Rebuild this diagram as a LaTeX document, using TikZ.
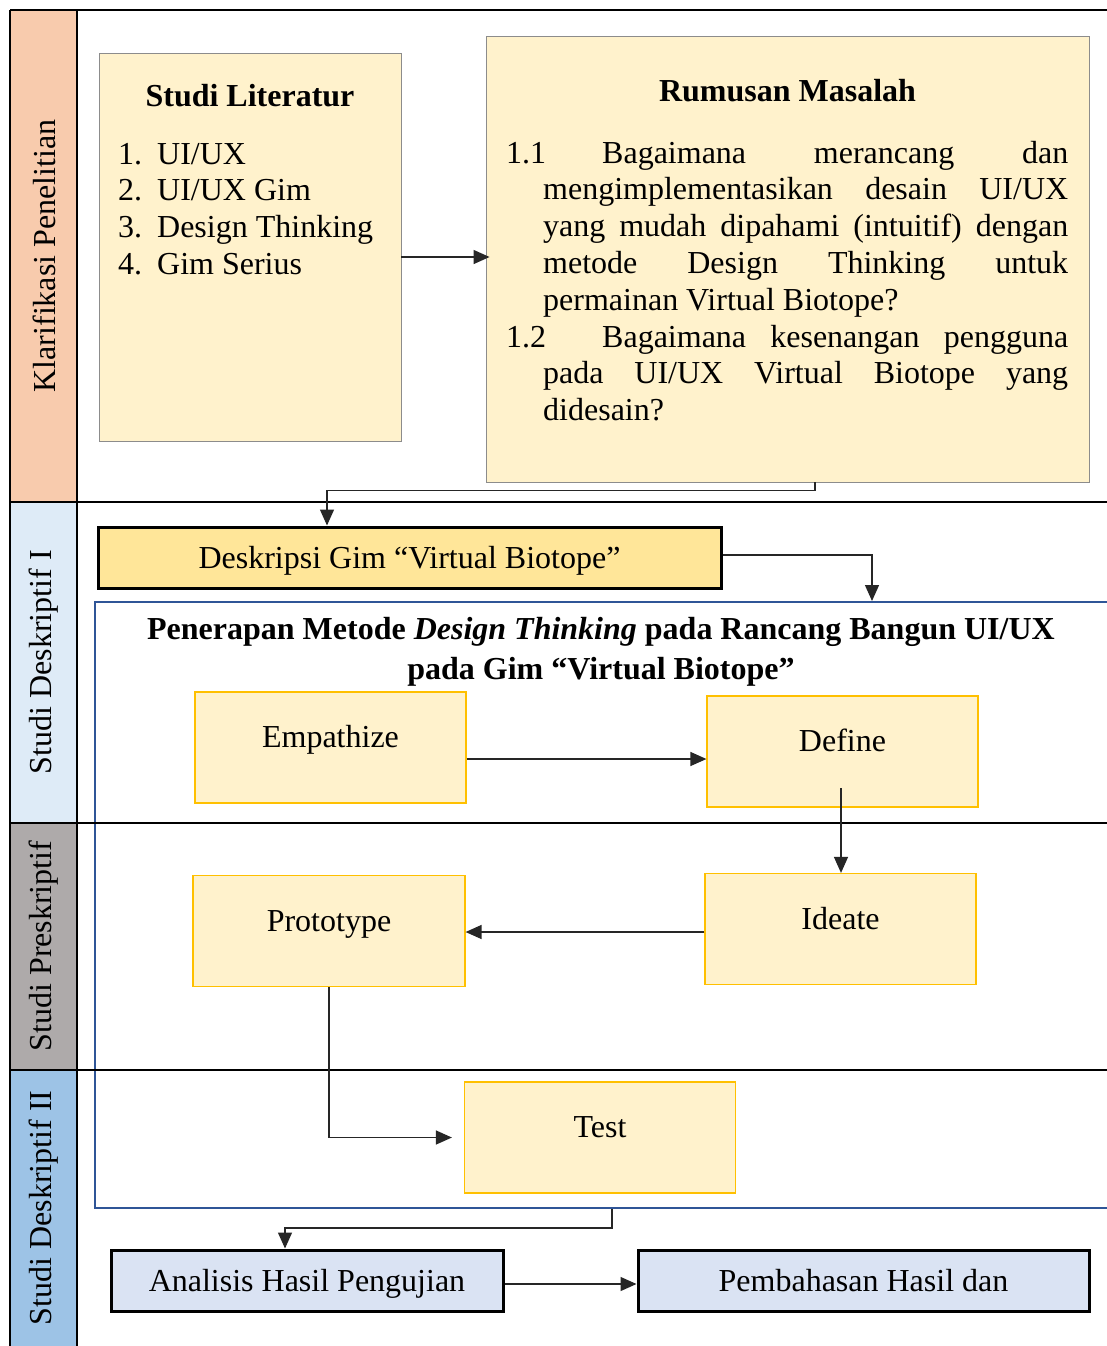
\documentclass[tikz,border=0pt]{standalone}
\usepackage{fontspec}
\setmainfont{Liberation Serif}
\usetikzlibrary{arrows.meta}
\definecolor{lanepeach}{HTML}{F8CBAD}
\definecolor{lanelblue}{HTML}{DEEBF7}
\definecolor{lanegray}{HTML}{AEAAAA}
\definecolor{laneblue}{HTML}{9DC3E6}
\definecolor{boxy}{HTML}{FFF2CC}
\definecolor{boxgold}{HTML}{FFC000}
\definecolor{deskfill}{HTML}{FFE699}
\definecolor{anafill}{HTML}{DAE3F3}
\definecolor{framblue}{HTML}{2F5597}
\newcommand\myfs{\fontsize{32}{36.8}\selectfont}
\begin{document}
\begin{tikzpicture}[x=1pt,y=-1pt,
  lanebar/.style={line width=2.5pt,black},
  lanelabel/.style={rotate=90,font=\myfs,inner sep=0pt},
  litbox/.style={draw=black!45,fill=boxy,line width=0.9pt,inner sep=0pt},
  dtbox/.style={draw=boxgold,fill=boxy,line width=1.2pt,minimum width=271pt,minimum height=111pt,
     font=\myfs,text height=11pt,text depth=11pt,inner sep=0pt},
  thickbox/.style={draw=black,line width=3pt,minimum height=61pt,font=\myfs,inner sep=0pt,
     text height=24pt,text depth=2pt},
  conn/.style={line width=1.3pt,draw=black!85,-{Triangle[length=16pt,width=14pt]}},
  plain/.style={font=\myfs,inner sep=0pt},
]
\useasboundingbox (0,0) rectangle (1107,1346);
\clip (0,0) rectangle (1107,1346);
\fill[white] (0,0) rectangle (1107,1346);
% lane colour bars
\fill[lanepeach] (10,10) rectangle (77,502);
\fill[lanelblue] (10,502) rectangle (77,823);
\fill[lanegray] (10,823) rectangle (77,1070);
\fill[laneblue] (10,1070) rectangle (77,1346);
% lane labels
\node[lanelabel] (l1) at (44,256) {Klarifikasi Penelitian};
\node[lanelabel] (l2) at (44,662) {Studi Deskriptif I};
\node[lanelabel] (l3) at (44,946) {Studi Preskriptif};
\node[lanelabel] (l4) at (44,1208) {Studi Deskriptif II};
% boxes
\node[litbox,minimum width=302pt,minimum height=388pt] (lit) at (250,247) {};
\node[litbox,minimum width=603pt,minimum height=446pt] (rum) at (787.5,259) {};
\node[plain,font=\myfs\bfseries,anchor=base] (littitle) at (250,106) {Studi Literatur};
\node[plain,anchor=north west,align=left] (litlist) at (118,138.2)
  {\strut\makebox[39pt][l]{1.}UI/UX\\\makebox[39pt][l]{2.}UI/UX Gim\\\makebox[39pt][l]{3.}Design Thinking\\\makebox[39pt][l]{4.}Gim Serius};
\node[plain,font=\myfs\bfseries,anchor=base] (rumtitle) at (787.5,101) {Rumusan Masalah};
\node[plain,anchor=north west,text width=562pt,align=justify] (rumtext) at (506,137.2)
  {\parindent=0pt\tolerance=10000\hbadness=10000\hangindent=37pt\hangafter=1
   \strut\makebox[96pt][l]{1.1}Bagaimana merancang dan\linebreak mengimplementasikan desain UI/UX\linebreak yang mudah dipahami (intuitif) dengan\linebreak metode Design Thinking untuk\linebreak permainan Virtual Biotope?\par
   \hangindent=37pt\hangafter=1 \makebox[96pt][l]{1.2}Bagaimana kesenangan pengguna\linebreak pada UI/UX Virtual Biotope yang\linebreak didesain?\par};
\node[thickbox,fill=deskfill,minimum width=623pt] (desk) at (409.5,557.5) {Deskripsi Gim “Virtual Biotope”};
% frame
\node[draw=framblue,line width=2pt,minimum width=1025pt,minimum height=606pt,inner sep=0pt] (frame) at (607.5,905) {};
\node[plain,font=\fontsize{32}{40}\selectfont\bfseries,anchor=north,align=center] (ftitle) at (601,611)
  {\strut Penerapan Metode \textit{Design Thinking} pada Rancang Bangun UI/UX\\pada Gim “Virtual Biotope”};
\node[dtbox] (emp) at (330.5,747.5) {Empathize};
\node[dtbox] (def) at (842.5,751.5) {Define};
\node[dtbox] (ide) at (840.5,929) {Ideate};
\node[dtbox,minimum width=272pt] (proto) at (329,931) {Prototype};
\node[dtbox] (test) at (600,1137.5) {Test};
\node[thickbox,fill=anafill,minimum width=392pt] (ana) at (307,1280.5) {Analisis Hasil Pengujian};
\node[thickbox,fill=anafill,minimum width=451pt] (pem) at (863.5,1280.5) {Pembahasan Hasil dan};
% lane lines
\draw[lanebar] (10,10) -- (1107,10);
\draw[lanebar] (10,502) -- (1107,502);
\draw[lanebar] (10,823) -- (1107,823);
\draw[lanebar] (10,1070) -- (1107,1070);
\draw[lanebar] (10,10) -- (10,1346);
\draw[lanebar] (77,10) -- (77,1346);
% connectors
\coordinate (dstart) at (841,788);
\draw[conn] (lit.east |- 0,257) -- ([xshift=4pt]rum.west |- 0,257);
\draw[conn] ([xshift=27.5pt]rum.south) -- ++(0,8) -| (desk.north -| 327,0);
\draw[conn] (desk.east |- 0,555) -| (frame.north -| 872,0);
\draw[conn] (emp.east |- 0,759) -- (def.west |- 0,759);
\draw[conn] (dstart) -- (ide.north -| dstart);
\draw[conn] (ide.west |- 0,932) -- (proto.east |- 0,932);
\draw[conn,shorten >=12pt] (proto.south) |- (test.west);
\draw[conn] (frame.south -| 612,0) -- ++(0,19) -| (ana.north -| 285,0);
\draw[conn] (ana.east |- 0,1284) -- (pem.west |- 0,1284);
\end{tikzpicture}
\end{document}
